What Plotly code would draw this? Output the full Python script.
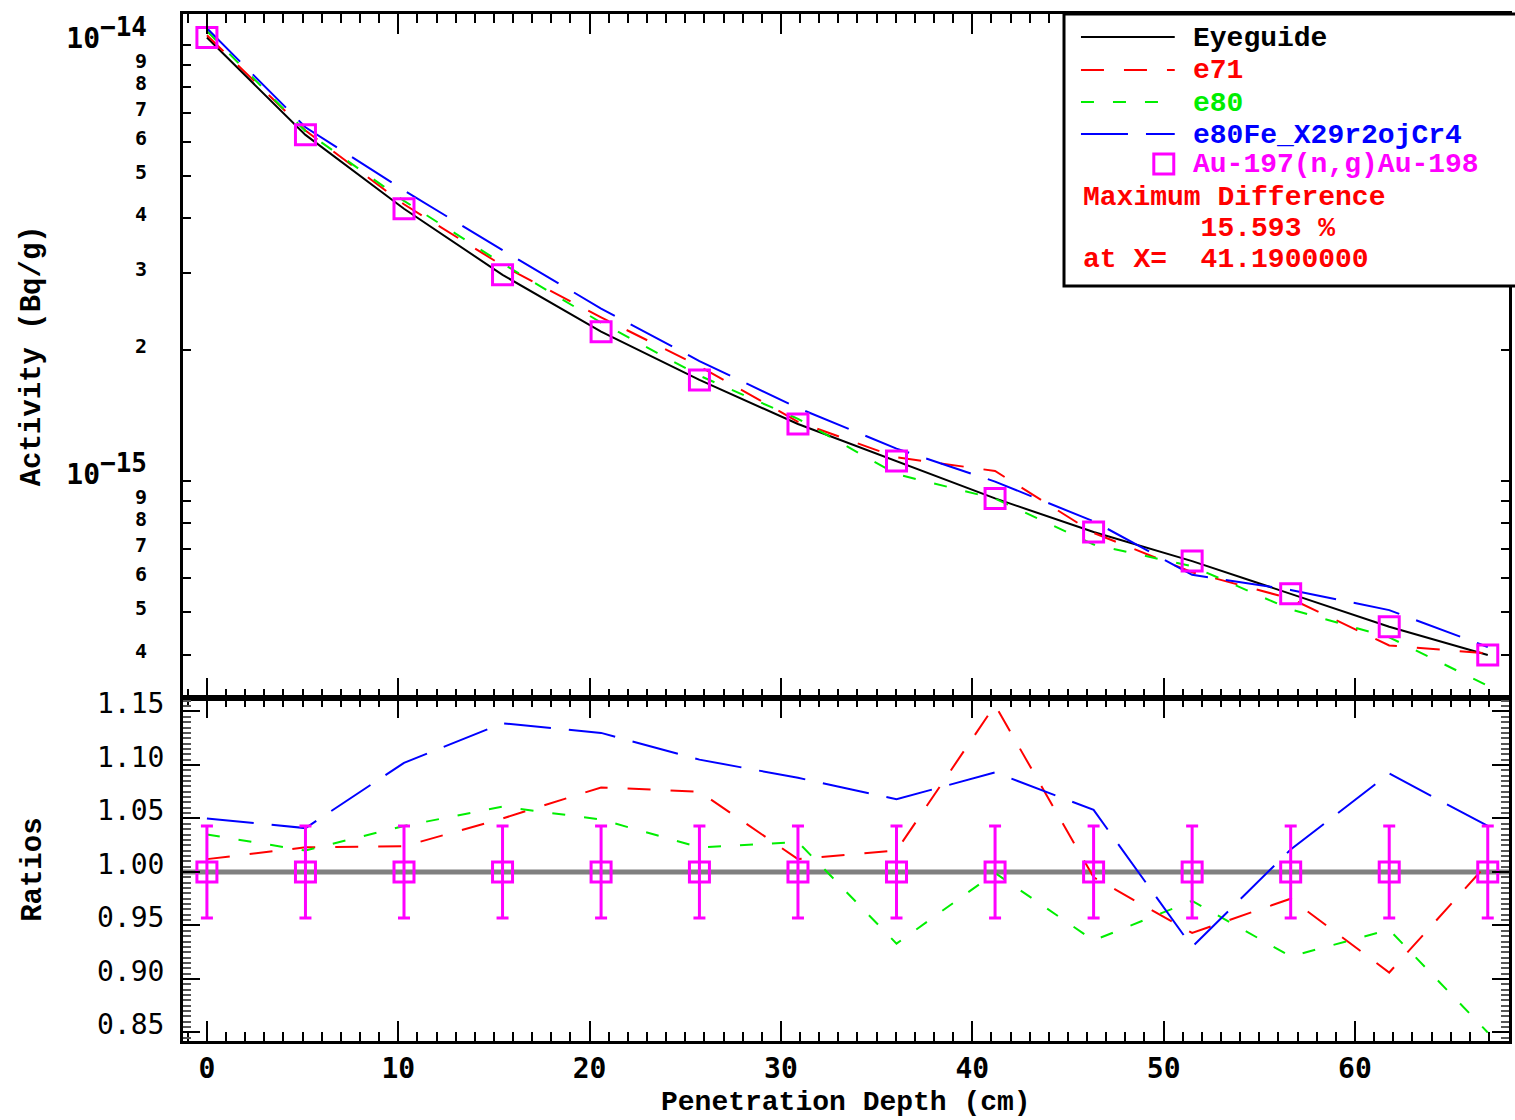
import plotly.graph_objects as go

# ---- data -----------------------------------------------------------------
depth_cm = [0.0, 5.15, 10.30, 15.45, 20.60, 25.74, 30.89, 36.04,
            41.19, 46.34, 51.49, 56.64, 61.79, 66.94]

# measured Au-197(n,g)Au-198 activity (Bq/g)
activity_meas = [1.040e-14, 6.22e-15, 4.21e-15, 2.97e-15, 2.20e-15, 1.705e-15,
                 1.351e-15, 1.111e-15, 9.12e-16, 7.64e-16, 6.55e-16, 5.51e-16,
                 4.63e-16, 3.99e-16]

# relative uncertainty of the measurement
meas_rel_unc = [0.043, 0.043, 0.043, 0.043, 0.043, 0.043, 0.043,
                0.043, 0.043, 0.043, 0.043, 0.043, 0.043, 0.043]

# calculated / measured ratios for each library
ratio_e71 = [1.012, 1.023, 1.024, 1.050, 1.079, 1.075, 1.012,
             1.020, 1.15593, 0.995, 0.943, 0.975, 0.906, 1.008]
ratio_e80 = [1.035, 1.020, 1.043, 1.061, 1.049, 1.023, 1.028,
             0.933, 0.999, 0.936, 0.973, 0.921, 0.946, 0.850]
ratio_e80fe = [1.050, 1.041, 1.102, 1.139, 1.130, 1.105, 1.088,
               1.068, 1.093, 1.058, 0.930, 1.021, 1.092, 1.043]

series_names = ["e71", "e80", "e80Fe_X29r2ojCr4"]
series_ratios = [ratio_e71, ratio_e80, ratio_e80fe]
series_colors = ["#ff0000", "#00ee00", "#0000ff"]
series_dash = ["23px,20px", "13px,19px", "47px,18px"]
meas_name = "Au-197(n,g)Au-198"
meas_color = "#ff00ff"

# calculated activities follow from the ratios
series_activity = [[r * m for r, m in zip(rat, activity_meas)] for rat in series_ratios]

# largest deviation from the measurement
max_diff, max_x = 0.0, 0.0
for rat in series_ratios:
    for x, r in zip(depth_cm, rat):
        if abs(r - 1.0) * 100 > max_diff:
            max_diff, max_x = abs(r - 1.0) * 100, x

# ---- geometry helpers ------------------------------------------------------
W, H = 1515, 1120
ML, MR, MT, MB = 183, 3, 14, 79
PW, PH = W - ML - MR, H - MT - MB
SPLIT = 698  # pixel row between the panels


def px_x(p):
    return (p - ML) / PW


def px_y(p):
    return 1 - (p - MT) / PH


split_frac = px_y(SPLIT)

TICK_FONT = "DejaVu Sans Mono"
TEXT_FONT = "Liberation Mono"

fig = go.Figure()

# ---- upper panel: activities ---------------------------------------------
fig.add_trace(go.Scatter(x=depth_cm, y=activity_meas, mode="lines",
                         line=dict(color="black", width=2),
                         xaxis="x", yaxis="y", name="Eyeguide"))
for name, act, col, dash in zip(series_names, series_activity, series_colors, series_dash):
    fig.add_trace(go.Scatter(x=depth_cm, y=act, mode="lines",
                             line=dict(color=col, width=2, dash=dash),
                             xaxis="x", yaxis="y", name=name))
fig.add_trace(go.Scatter(x=depth_cm, y=activity_meas, mode="markers",
                         marker=dict(symbol="square-open", size=20, color=meas_color,
                                     line=dict(width=3, color=meas_color)),
                         xaxis="x", yaxis="y", name=meas_name))

# ---- lower panel: ratios -------------------------------------------------
for name, rat, col, dash in zip(series_names, series_ratios, series_colors, series_dash):
    fig.add_trace(go.Scatter(x=depth_cm, y=rat, mode="lines",
                             line=dict(color=col, width=2, dash=dash),
                             xaxis="x2", yaxis="y2", name=name))
fig.add_trace(go.Scatter(x=depth_cm, y=[1.0] * len(depth_cm), mode="markers",
                         marker=dict(symbol="square-open", size=20, color=meas_color,
                                     line=dict(width=3, color=meas_color)),
                         error_y=dict(type="data", array=meas_rel_unc, visible=True,
                                      color=meas_color, thickness=3, width=6),
                         xaxis="x2", yaxis="y2", name=meas_name))

# ---- axes -----------------------------------------------------------------
x_range = [-1.25, 68.05]
common_x = dict(range=x_range, tickmode="linear", tick0=0, dtick=10,
                ticks="inside", ticklen=20, tickwidth=2, tickcolor="black",
                minor=dict(dtick=1, ticks="inside", ticklen=9, tickwidth=2, tickcolor="black"),
                showline=True, linewidth=3, linecolor="black", mirror="allticks",
                showgrid=False, zeroline=False)

log_vals, log_text = [], []
for exp in (-16, -15, -14):
    for m in range(1, 10):
        v = m * 10.0 ** exp
        if 3.2e-16 < v < 1.17e-14:
            log_vals.append(v)
            if m == 1:
                log_text.append('<span style="font-size:28px">10<sup>'
                                '<span style="font-size:26px">\u2212%d</span></sup></span>' % (-exp))
            else:
                log_text.append(str(m))
decade_vals = [v for v, t in zip(log_vals, log_text) if not t.isdigit()]
five_vals = [v for v, t in zip(log_vals, log_text) if t == "5"]

y_log_range = [-15.4977, -13.929]
log_common = dict(type="log", range=y_log_range, domain=[split_frac, 1],
                  showgrid=False, zeroline=False, anchor="x",
                  showline=True, linewidth=3, linecolor="black", mirror="allticks")

fig.update_layout(
    width=W, height=H,
    margin=dict(l=ML, r=MR, t=MT, b=MB, pad=0),
    paper_bgcolor="white", plot_bgcolor="white",
    showlegend=False,
    xaxis=dict(common_x, domain=[0, 1], anchor="y", showticklabels=False, matches="x2"),
    xaxis2=dict(common_x, domain=[0, 1], anchor="y2", showticklabels=True,
                tickfont=dict(family=TICK_FONT, size=28, color="black", weight="bold"),
                ticklabelstandoff=0),
    yaxis=dict(log_common, tickmode="array", tickvals=log_vals, ticktext=log_text,
               ticks="inside", ticklen=8, tickwidth=2, tickcolor="black",
               tickfont=dict(family=TICK_FONT, size=20, color="black", weight="bold"),
               ticklabelshift=-4, ticklabelstandoff=29),
    yaxis3=dict(log_common, overlaying="y", tickmode="array", tickvals=decade_vals,
                ticks="inside", ticklen=27, tickwidth=2, tickcolor="#555555",
                showticklabels=False),
    yaxis4=dict(log_common, overlaying="y", tickmode="array", tickvals=five_vals,
                ticks="inside", ticklen=17, tickwidth=2, tickcolor="black",
                showticklabels=False),
    yaxis2=dict(domain=[0, split_frac], anchor="x2", range=[0.842, 1.1626],
                tickmode="linear", tick0=0.85, dtick=0.05, tickformat=".2f",
                ticks="inside", ticklen=17, tickwidth=2, tickcolor="black",
                minor=dict(dtick=0.005, ticks="inside", ticklen=8, tickwidth=2, tickcolor="#555555"),
                showline=True, linewidth=3, linecolor="black", mirror="allticks",
                showgrid=False, zeroline=False,
                tickfont=dict(family=TICK_FONT, size=28, color="black"),
                ticklabelshift=-8, ticklabelstandoff=10),
)

# reference line at ratio 1
fig.add_shape(type="line", xref="x2 domain", yref="y2", x0=0, x1=1, y0=1.0, y1=1.0,
              line=dict(color="#808080", width=5), layer="below")

# ---- axis titles ---------------------------------------------------------
title_font = dict(family=TEXT_FONT, size=29, color="black", weight="bold")
fig.add_annotation(text="Activity (Bq/g)", xref="paper", yref="paper",
                   x=px_x(33), y=(1 + split_frac) / 2, textangle=-90,
                   showarrow=False, font=title_font, xanchor="center", yanchor="middle")
fig.add_annotation(text="Ratios", xref="paper", yref="paper",
                   x=px_x(33), y=split_frac / 2, textangle=-90,
                   showarrow=False, font=title_font, xanchor="center", yanchor="middle")
fig.add_annotation(text="Penetration Depth (cm)", xref="paper", yref="paper",
                   x=0.5, y=px_y(1102), showarrow=False,
                   font=dict(title_font, size=28),
                   xanchor="center", yanchor="middle")

# ---- legend box ------------------------------------------------------------
fig.add_shape(type="rect", xref="paper", yref="paper",
              x0=px_x(1066), x1=1.02, y0=px_y(286), y1=1.0,
              line=dict(color="black", width=3), fillcolor="white", layer="above")

leg_font = dict(family=TEXT_FONT, size=28, weight="bold")
line_rows = [("Eyeguide", "black", "solid", 37)] + [
    (n, c, d, y) for n, c, d, y in zip(series_names, series_colors, series_dash, [70, 102, 134])]
for label, col, dash, yrow in line_rows:
    fig.add_shape(type="line", xref="paper", yref="paper",
                  x0=px_x(1083), x1=px_x(1177), y0=px_y(yrow), y1=px_y(yrow),
                  line=dict(color=col, width=2, dash=dash), layer="above")
    fig.add_annotation(text=label, xref="paper", yref="paper", x=px_x(1193), y=px_y(yrow + 1),
                       showarrow=False, xanchor="left", yanchor="middle",
                       font=dict(leg_font, color=col))

fig.add_shape(type="rect", xref="paper", yref="paper",
              x0=px_x(1156), x1=px_x(1176), y0=px_y(174), y1=px_y(154),
              line=dict(color=meas_color, width=3), layer="above")
fig.add_annotation(text=meas_name, xref="paper", yref="paper", x=px_x(1193), y=px_y(165),
                   showarrow=False, xanchor="left", yanchor="middle",
                   font=dict(leg_font, color=meas_color))

diff_lines = [("Maximum Difference", 197),
              ("       %.3f %%" % max_diff, 228),
              ("at X=  %.7f" % max_x, 259)]
for txt, yrow in diff_lines:
    fig.add_annotation(text=txt.replace(" ", "&nbsp;"), xref="paper", yref="paper",
                       x=px_x(1083), y=px_y(yrow), showarrow=False,
                       xanchor="left", yanchor="middle",
                       font=dict(leg_font, color="#ff0000"))

fig.write_html("out.html")
